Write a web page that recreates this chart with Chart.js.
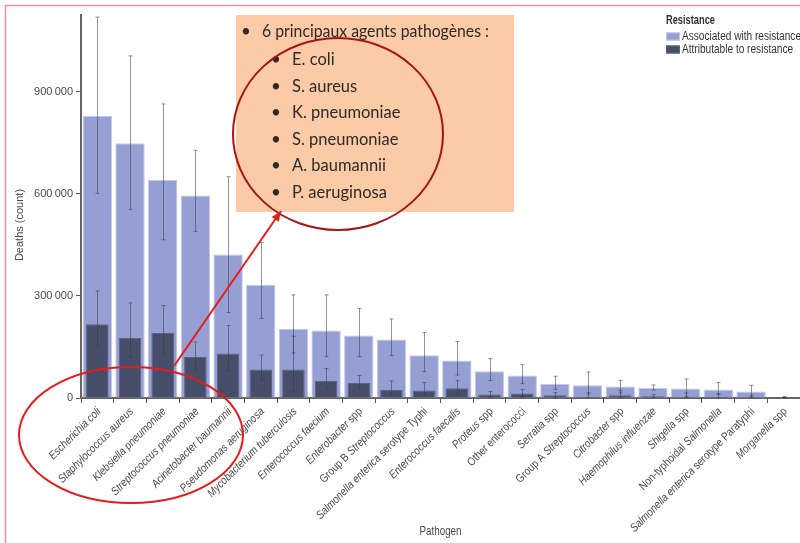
<!DOCTYPE html>
<html><head><meta charset="utf-8">
<script src="https://cdn.jsdelivr.net/npm/chart.js@4"></script>
<style>html,body{margin:0;padding:0;background:#fff}#wrap{width:800px;height:543px;position:relative}</style>
</head><body><div id="wrap"><canvas id="c" width="800" height="543"></canvas></div>
<script>
const categories = ["Escherichia coli","Staphylococcus aureus","Klebsiella pneumoniae","Streptococcus pneumoniae","Acinetobacter baumannii","Pseudomonas aeruginosa","Mycobacterium tuberculosis","Enterococcus faecium","Enterobacter spp","Group B Streptococcus","Salmonella enterica serotype Typhi","Enterococcus faecalis","Proteus spp","Other enterococci","Serratia spp","Group A Streptococcus","Citrobacter spp","Haemophilus influenzae","Shigella spp","Non-typhoidal Salmonella","Salmonella enterica serotype Paratyphi","Morganella spp"];
const associated     = [828500, 748000, 641000, 595000, 421700, 332300, 203000, 198200, 183500, 171700, 125600, 110000, 78500, 65900, 41200, 37300, 33500, 29400, 27600, 24700, 18800, 2000];
const associatedLow  = [601000, 554000, 464700, 489300, 251000, 233500, 132000, 121700, 121700, 124700, 77600, 67600, 51200, 42300, 24700, 10900, 14700, 23500, 4100, 10900, 3000, 500];
const associatedHigh = [1118800, 1005000, 863800, 727600, 650000, 457000, 303000, 303000, 263000, 232300, 192300, 165900, 115900, 98200, 63800, 76500, 52100, 38200, 55900, 45300, 37300, 4100];
const attributable     = [216700, 176500, 191200, 120600, 130600, 83500, 83500, 50000, 44100, 23500, 21800, 28500, 10000, 13000, 8000, 3000, 8000, 5000, 3000, 3000, 1500, 500];
const attributableLow  = [152000, 120000, 128500, 81500, 78500, 54000, 19000, 25600, 27600, 8000, 8000, 8000, 3000, 2000, 2000, 500, 2000, 1000, 500, 500, 300, 100];
const attributableHigh = [314700, 279400, 271700, 164700, 213000, 126500, 181500, 86500, 65900, 50000, 45300, 51200, 18800, 24700, 15900, 15900, 21800, 10000, 14700, 11800, 8800, 1500];
const yTicks = [0, 300000, 600000, 900000];
const legendTitle = "Resistance";
const seriesNames = ["Associated with resistance", "Attributable to resistance"];
const axisTitles = {x: "Pathogen", y: "Deaths (count)"};
const boxTitle = "6 principaux agents pathogènes :";
const boxItems = ["E. coli", "S. aureus", "K. pneumoniae", "S. pneumoniae", "A. baumannii", "P. aeruginosa"];
// words set in roman type inside the pathogen names (the rest is italic)
const romanWords = ["spp", "Other", "enterococci", "Group", "A", "B", "serotype", "Typhi", "Paratyphi", "Non-typhoidal"];

const SANS = "'Liberation Sans',Arial,'DejaVu Sans',sans-serif";
const LIGHT = '#959fd3', DARK = '#474e69';
const TXT = '#4a4a4a';

function fitScale(ctx, font, text, target) {
  ctx.save(); ctx.font = font; const w = ctx.measureText(text).width; ctx.restore();
  return Math.min(1, target / w);
}

const errorBars = {
  id: 'errorBars',
  afterDatasetsDraw(chart) {
    const ctx = chart.ctx, x = chart.scales.x, y = chart.scales.y;
    ctx.save();
    ctx.strokeStyle = 'rgba(60,60,60,0.55)';
    ctx.lineWidth = 1;
    const draw = (lo, hi) => {
      for (let i = 0; i < lo.length; i++) {
        const cx = Math.round(x.getPixelForValue(i)) + 0.5;
        const y1 = y.getPixelForValue(lo[i]), y2 = y.getPixelForValue(hi[i]);
        ctx.beginPath();
        ctx.moveTo(cx, y1); ctx.lineTo(cx, y2);
        ctx.moveTo(cx - 2, y1); ctx.lineTo(cx + 2, y1);
        ctx.moveTo(cx - 2, y2); ctx.lineTo(cx + 2, y2);
        ctx.stroke();
      }
    };
    draw(associatedLow, associatedHigh);
    draw(attributableLow, attributableHigh);
    ctx.restore();
  }
};

const xLabels = {
  id: 'xLabels',
  afterDraw(chart) {
    const ctx = chart.ctx, x = chart.scales.x, yb = chart.chartArea.bottom;
    const fI = 'italic 11.5px ' + SANS, fR = '11.5px ' + SANS;
    const sx = fitScale(ctx, fI, 'Escherichia coli', 68);
    ctx.save();
    ctx.fillStyle = TXT; ctx.textBaseline = 'alphabetic'; ctx.textAlign = 'left';
    chart.data.labels.forEach((lab, i) => {
      const words = lab.split(' ');
      const parts = words.map((w, k) => {
        const font = romanWords.includes(w) ? fR : fI;
        ctx.font = font;
        const t = k < words.length - 1 ? w + ' ' : w;
        return {t, font, w: ctx.measureText(t).width};
      });
      const total = parts.reduce((s, p) => s + p.w, 0);
      const cx = x.getPixelForValue(i);
      ctx.save();
      ctx.translate(cx + 4, yb + 14);
      ctx.rotate(-Math.PI / 4);
      ctx.scale(sx, 1);
      let pos = -total;
      parts.forEach(p => { ctx.font = p.font; ctx.fillText(p.t, pos, 0); pos += p.w; });
      ctx.restore();
    });
    // x title
    const fT = '12.5px ' + SANS;
    const st = fitScale(ctx, fT, axisTitles.x, 42);
    ctx.save();
    ctx.translate((chart.chartArea.left + chart.chartArea.right) / 2, 532);
    ctx.scale(st, 1);
    ctx.font = fT; ctx.textAlign = 'center'; ctx.textBaseline = 'middle';
    ctx.fillText(axisTitles.x, 0, 0);
    ctx.restore();
    ctx.restore();
  }
};

const annotations = {
  id: 'annot',
  beforeDraw(chart) {
    const ctx = chart.ctx;
    ctx.save(); ctx.fillStyle = '#fff'; ctx.fillRect(0, 0, chart.width, chart.height); ctx.restore();
  },
  afterDraw(chart) {
    const ctx = chart.ctx;
    ctx.save();
    // y title
    ctx.save();
    ctx.translate(20, 225); ctx.rotate(-Math.PI / 2);
    ctx.fillStyle = TXT; ctx.font = '11px ' + SANS;
    ctx.textAlign = 'center'; ctx.textBaseline = 'middle';
    ctx.fillText(axisTitles.y, 0, 0);
    ctx.restore();
    // legend
    ctx.textBaseline = 'middle'; ctx.textAlign = 'left';
    const fB = 'bold 12px ' + SANS, fL = '12px ' + SANS;
    const sB = fitScale(ctx, fB, legendTitle, 49);
    const sL = fitScale(ctx, fL, seriesNames[0], 119);
    ctx.save(); ctx.translate(666, 21); ctx.scale(sB, 1);
    ctx.fillStyle = '#333'; ctx.font = fB; ctx.fillText(legendTitle, 0, 0); ctx.restore();
    const ds = chart.data.datasets;
    [36.5, 49.5].forEach((yy, k) => {
      ctx.fillStyle = ds[k].backgroundColor;
      ctx.fillRect(666, yy - 4, 14, 8);
      ctx.strokeStyle = ds[k].borderColor; ctx.lineWidth = 1;
      ctx.strokeRect(666.5, yy - 3.5, 13, 7);
      ctx.save(); ctx.translate(682, yy); ctx.scale(sL, 1);
      ctx.fillStyle = '#333'; ctx.font = fL; ctx.fillText(ds[k].label, 0, 0);
      ctx.restore();
    });
    // peach box
    ctx.fillStyle = '#fbcaa6';
    ctx.fillRect(236, 15, 278, 197);
    ctx.fillStyle = '#2e2a28'; ctx.textBaseline = 'middle'; ctx.textAlign = 'left';
    ctx.font = '17px Lato';
    ctx.fillText('•', 241, 32);
    ctx.fillText(boxTitle, 262, 32, 227);
    const ys = [60, 86.5, 113, 139.5, 166, 192.5];
    boxItems.forEach((t, i) => {
      ctx.font = '17px Lato';
      ctx.fillText('•', 271, ys[i]);
      ctx.font = '16.5px Lato';
      ctx.fillText(t, 292, ys[i]);
    });
    // dark red ellipse
    ctx.strokeStyle = '#a51616'; ctx.lineWidth = 2;
    ctx.beginPath(); ctx.ellipse(338, 134, 105, 96, 0, 0, 2 * Math.PI); ctx.stroke();
    // red arrow
    const x0 = 174, y0 = 366, x1 = 281, y1 = 211;
    ctx.strokeStyle = '#e81b1b'; ctx.fillStyle = '#e81b1b'; ctx.lineWidth = 2;
    ctx.beginPath(); ctx.moveTo(x0, y0); ctx.lineTo(x1, y1); ctx.stroke();
    const ang = Math.atan2(y1 - y0, x1 - x0), hl = 11;
    ctx.beginPath();
    ctx.moveTo(x1, y1);
    ctx.lineTo(x1 - hl * Math.cos(ang - 0.4), y1 - hl * Math.sin(ang - 0.4));
    ctx.lineTo(x1 - hl * Math.cos(ang + 0.4), y1 - hl * Math.sin(ang + 0.4));
    ctx.closePath(); ctx.fill();
    // bright red ellipse
    ctx.strokeStyle = '#e81b1b'; ctx.lineWidth = 2;
    ctx.beginPath(); ctx.ellipse(131, 435, 112, 68, 0, 0, 2 * Math.PI); ctx.stroke();
    // page border
    ctx.strokeStyle = '#e3919b'; ctx.lineWidth = 1.5;
    ctx.beginPath(); ctx.moveTo(5.5, 543); ctx.lineTo(5.5, 5.5); ctx.lineTo(800, 5.5); ctx.stroke();
    ctx.restore();
  }
};

new Chart(document.getElementById('c'), {
  type: 'bar',
  data: {
    labels: categories,
    datasets: [
      {label: seriesNames[0], data: associated, backgroundColor: LIGHT, borderColor: '#c3c8ea', borderWidth: 1,
       barPercentage: 0.9, categoryPercentage: 1, grouped: false, order: 2},
      {label: seriesNames[1], data: attributable, backgroundColor: DARK, borderColor: '#5c6382', borderWidth: 1,
       barPercentage: 0.69, categoryPercentage: 1, grouped: false, order: 1}
    ]
  },
  options: {
    responsive: false, animation: false, devicePixelRatio: 1,
    layout: {padding: {left: 9, top: 15, right: 0, bottom: 3}},
    plugins: {legend: {display: false}, tooltip: {enabled: false}},
    scales: {
      x: {
        grid: {display: true, drawOnChartArea: false, offset: true, tickLength: 5, color: '#555', lineWidth: 1},
        border: {display: true, color: '#666', width: 2},
        ticks: {autoSkip: false, maxRotation: 45, minRotation: 45, color: 'rgba(0,0,0,0)',
                font: {family: SANS, size: 11}, padding: 2},
        title: {display: false},
        afterFit(s) { s.height = 142; }
      },
      y: {
        min: 0, max: 1125000,
        ticks: {stepSize: 300000, color: TXT, font: {family: SANS, size: 11}, padding: 3,
                callback: v => v.toLocaleString('en-US').replace(/,/g, '\u2009')},
        grid: {drawOnChartArea: false, tickLength: 5, color: '#555'},
        border: {color: '#666', width: 2},
        afterBuildTicks(s) { s.ticks = yTicks.map(v => ({value: v})); },
        afterFit(s) { s.width = 72; }
      }
    }
  },
  plugins: [errorBars, xLabels, annotations]
});
</script>
</body></html>
